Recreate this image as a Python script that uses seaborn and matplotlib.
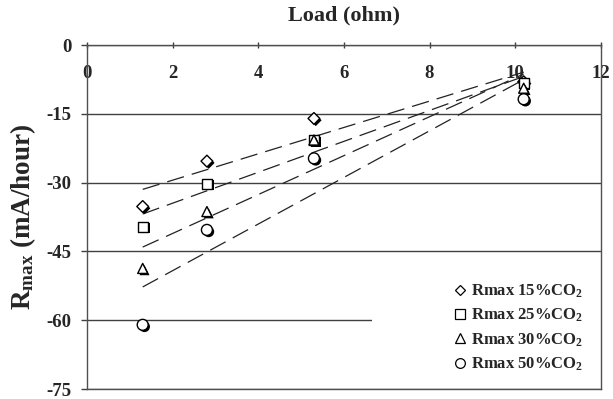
import numpy as np
import pandas as pd
import matplotlib
matplotlib.use("Agg")
import matplotlib.pyplot as plt
import matplotlib.patheffects as pe
from matplotlib.lines import Line2D
from matplotlib.patches import Rectangle
import seaborn as sns

# ---- data ----
load_ohm = [1.3, 2.8, 5.3, 10.2]
rmax_15 = [-35.2, -25.3, -16.0, -8.0]
rmax_25 = [-39.6, -30.2, -20.7, -8.3]
rmax_30 = [-48.7, -36.3, -20.7, -9.4]
rmax_50 = [-61.0, -40.3, -24.7, -11.8]
series_labels = ["Rmax 15%CO$_\\mathbf{2}$", "Rmax 25%CO$_\\mathbf{2}$",
                 "Rmax 30%CO$_\\mathbf{2}$", "Rmax 50%CO$_\\mathbf{2}$"]
series_markers = ["D", "s", "^", "o"]
x_ticks = [0, 2, 4, 6, 8, 10, 12]
y_ticks = [0, -15, -30, -45, -60, -75]

sns.set_style("white")
plt.rcParams["font.family"] = ["Liberation Serif", "DejaVu Serif"]
plt.rcParams["font.weight"] = "bold"
plt.rcParams["axes.unicode_minus"] = False
plt.rcParams["mathtext.fontset"] = "custom"
plt.rcParams["mathtext.rm"] = "Liberation Serif:bold"
plt.rcParams["mathtext.bf"] = "Liberation Serif:bold"
plt.rcParams["mathtext.it"] = "Liberation Serif:bold:italic"

fig = plt.figure(figsize=(6.13, 3.99), dpi=100)
ax = fig.add_axes([0.142, 0.025, 0.838, 0.862])

all_series = [rmax_15, rmax_25, rmax_30, rmax_50]
sizes = [36, 52, 52, 62]
shadow = [pe.SimplePatchShadow(offset=(1.3, -1.3), shadow_rgbFace="black", alpha=1.0), pe.Normal()]

for vals, lab, mk, sz in zip(all_series, series_labels, series_markers, sizes):
    df = pd.DataFrame({"load": load_ohm, "rmax": vals})
    sns.regplot(data=df, x="load", y="rmax", ax=ax, scatter=False, ci=None,
                truncate=True, color="#222222",
                line_kws={"lw": 0.9, "ls": (0, (14, 6.5)), "zorder": 2})
    sns.scatterplot(data=df, x="load", y="rmax", ax=ax, marker=mk, s=sz,
                    color="white", edgecolor="black", linewidth=1.0, zorder=3,
                    path_effects=shadow, legend=False)

ax.set_xlim(0, 12)
ax.set_ylim(-75, 0)
ax.set_xticks(x_ticks)
ax.set_yticks(y_ticks)
ax.set_xlabel("")
ax.set_ylabel("R$_{\\mathrm{max}}$ (mA/hour)", fontsize=19.5, fontweight="bold", labelpad=6)

ax.xaxis.set_ticks_position("top")
ax.tick_params(axis="x", which="both", top=True, bottom=False, labeltop=True,
               labelbottom=False, direction="inout", length=5, width=1,
               pad=-29, labelsize=13.5, color="#404040")
ax.tick_params(axis="y", direction="out", length=4, width=1, labelsize=13.5,
               left=True, pad=7, color="#404040")
for lbl in ax.get_xticklabels() + ax.get_yticklabels():
    lbl.set_fontweight("bold")

for sp in ax.spines.values():
    sp.set_color("#505050")
    sp.set_linewidth(1.0)

ax.set_axisbelow(True)
ax.yaxis.grid(True, color="#404040", lw=1.0)
ax.xaxis.grid(False)

# white area behind legend (covers grid)
ax.add_patch(Rectangle((0.555, 0.04), 0.46, 0.275, transform=ax.transAxes,
                       facecolor="white", edgecolor="none", zorder=1))

handles = [Line2D([], [], marker=m, ls="none", mfc="white", mec="black", mew=0.9,
                  ms=(5.5 if m == "D" else 7)) for m in series_markers]
ax.legend(handles, series_labels, loc="center left", bbox_to_anchor=(0.69, 0.178),
          frameon=False, prop={"family": "Liberation Serif", "weight": "bold", "size": 12},
          handlelength=0.8, handletextpad=0.3, labelspacing=0.42, borderpad=0.2)

fig.text(344 / 613, 1 - 15 / 399, "Load (ohm)", ha="center", va="center",
         fontsize=16, fontweight="bold")

fig.savefig("out.png", dpi=100)
